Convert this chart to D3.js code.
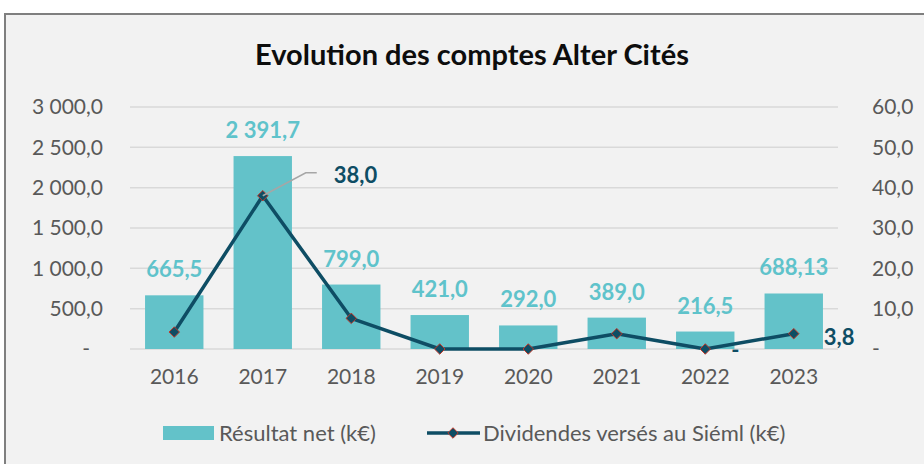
<!DOCTYPE html>
<html>
<head>
<meta charset="utf-8">
<script src="https://cdn.jsdelivr.net/npm/d3@7"></script>
<style>
  body { margin: 0; background: #ffffff; }
  svg { display: block; font-family: Lato, "Open Sans", sans-serif; }
</style>
</head>
<body>
<div id="chart"></div>
<script>
// Chart data
const years = ["2016", "2017", "2018", "2019", "2020", "2021", "2022", "2023"];
const resultatNet = [665.5, 2391.7, 799.0, 421.0, 292.0, 389.0, 216.5, 688.13];
const dividendes = [4.2, 38.0, 7.6, 0, 0, 3.8, 0, 3.8];
const leftTicks = [0, 500, 1000, 1500, 2000, 2500, 3000];
const rightTicks = [0, 10, 20, 30, 40, 50, 60];
const labelledDividends = ["2017", "2022", "2023"];

const width = 924, height = 464;
const margin = { top: 107, right: 86, bottom: 115, left: 130 };

const fr = d3.formatLocale({ decimal: ",", thousands: "\u00a0", grouping: [3], currency: ["", "€"] });
const fmt1 = fr.format(",.1f");
const fmt2 = fr.format(",.2f");
const tickFmt = v => v === 0 ? "-" : fmt1(v);
const barFmt = v => Math.abs(v * 10 - Math.round(v * 10)) < 1e-9 ? fmt1(v) : fmt2(v);

const svg = d3.select("#chart").append("svg")
    .attr("width", width)
    .attr("height", height);

// Frame
svg.append("rect")
    .attr("x", 5).attr("y", 14)
    .attr("width", width + 20).attr("height", height)
    .attr("fill", "#f2f2f2")
    .attr("stroke", "#7f7f7f")
    .attr("stroke-width", 2);

// Title
svg.append("text")
    .attr("x", 472).attr("y", 65)
    .attr("text-anchor", "middle")
    .attr("font-size", 29)
    .attr("font-weight", "bold")
    .attr("fill", "#0d0d0d")
    .text("Evolution des comptes Alter Cités");

const x = d3.scaleBand()
    .domain(years)
    .range([margin.left, width - margin.right])
    .paddingInner(0.34)
    .paddingOuter(0.17);

const yLeft = d3.scaleLinear().domain([0, 3000]).range([349, 107]);
const yRight = d3.scaleLinear().domain([0, 60]).range([349, 107]);

// Gridlines
svg.append("g")
    .selectAll("line")
    .data(leftTicks)
    .enter().append("line")
    .attr("x1", margin.left)
    .attr("x2", width - margin.right)
    .attr("y1", d => yLeft(d))
    .attr("y2", d => yLeft(d))
    .attr("stroke", "#d9d9d9")
    .attr("stroke-width", 1.5);

// Left axis
const leftAxis = svg.append("g")
    .attr("transform", `translate(${margin.left},0)`)
    .call(d3.axisLeft(yLeft).tickValues(leftTicks).tickFormat(tickFmt).tickSize(0).tickPadding(27));
leftAxis.select(".domain").remove();
leftAxis.selectAll("text")
    .attr("font-size", 21)
    .attr("font-family", "Lato, sans-serif")
    .attr("fill", "#595959")
    .attr("dx", d => d === 0 ? -13 : 0);

// Right axis (labels left-aligned)
const rightAxis = svg.append("g")
    .attr("transform", `translate(${width - margin.right},0)`)
    .call(d3.axisRight(yRight).tickValues(rightTicks).tickFormat(tickFmt).tickSize(0).tickPadding(34));
rightAxis.select(".domain").remove();
rightAxis.selectAll("text")
    .attr("font-size", 21)
    .attr("font-family", "Lato, sans-serif")
    .attr("fill", "#595959");

// Bottom axis
const bottomAxis = svg.append("g")
    .attr("transform", `translate(0,${yLeft(0)})`)
    .call(d3.axisBottom(x).tickSize(0).tickPadding(20));
bottomAxis.select(".domain").remove();
bottomAxis.selectAll("text")
    .attr("font-size", 21)
    .attr("font-family", "Lato, sans-serif")
    .attr("fill", "#595959");

// Bars
svg.append("g")
    .selectAll("rect")
    .data(resultatNet)
    .enter().append("rect")
    .attr("x", (d, i) => x(years[i]))
    .attr("width", x.bandwidth())
    .attr("y", d => yLeft(d))
    .attr("height", d => yLeft(0) - yLeft(d))
    .attr("fill", "#63c2c9");

// Bar labels
svg.append("g")
    .selectAll("text")
    .data(resultatNet)
    .enter().append("text")
    .attr("x", (d, i) => x(years[i]) + x.bandwidth() / 2)
    .attr("y", d => yLeft(d) - 18)
    .attr("text-anchor", "middle")
    .attr("font-size", 22)
    .attr("font-weight", "bold")
    .attr("fill", "#5fc3cb")
    .text(d => barFmt(d));

// Dividends line
const cx = i => x(years[i]) + x.bandwidth() / 2;
const line = d3.line()
    .x((d, i) => cx(i))
    .y(d => yRight(d));

svg.append("path")
    .datum(dividendes)
    .attr("fill", "none")
    .attr("stroke", "#0e4d64")
    .attr("stroke-width", 3.5)
    .attr("stroke-linejoin", "round")
    .attr("d", line);

const diamond = d3.symbol().type(d3.symbolDiamond2).size(70);
svg.append("g")
    .selectAll("path")
    .data(dividendes)
    .enter().append("path")
    .attr("transform", (d, i) => `translate(${cx(i)},${yRight(d)})`)
    .attr("d", diamond)
    .attr("fill", "#0e4d64")
    .attr("stroke", "#c0392b")
    .attr("stroke-width", 1);

// Dividend labels
const divLabels = svg.append("g")
    .attr("font-weight", "bold")
    .attr("font-size", 22)
    .attr("fill", "#0e4d64");

dividendes.forEach((d, i) => {
    if (!labelledDividends.includes(years[i])) return;
    const px = cx(i), py = yRight(d);
    if (years[i] === "2017") {
        svg.append("polyline")
            .attr("points", `${px},${py} ${px + 43},${py - 23} ${px + 54},${py - 23}`)
            .attr("fill", "none")
            .attr("stroke", "#a6a6a6")
            .attr("stroke-width", 1.5);
        divLabels.append("text")
            .attr("x", px + 71).attr("y", py - 13)
            .text(fmt1(d));
    } else if (d === 0) {
        divLabels.append("text")
            .attr("x", px + 30).attr("y", py + 9)
            .attr("text-anchor", "middle")
            .text("-");
    } else {
        divLabels.append("text")
            .attr("x", px + 30).attr("y", py + 11)
            .text(fmt1(d));
    }
});

// Legend
const legend = svg.append("g").attr("font-size", 22).attr("fill", "#595959");
legend.append("rect")
    .attr("x", 163).attr("y", 426)
    .attr("width", 51).attr("height", 14)
    .attr("fill", "#63c2c9");
legend.append("text")
    .attr("x", 219).attr("y", 441)
    .text("Résultat net (k€)");
legend.append("line")
    .attr("x1", 427).attr("x2", 480)
    .attr("y1", 433).attr("y2", 433)
    .attr("stroke", "#0e4d64")
    .attr("stroke-width", 3.5);
legend.append("path")
    .attr("transform", "translate(453,433)")
    .attr("d", diamond)
    .attr("fill", "#0e4d64")
    .attr("stroke", "#c0392b")
    .attr("stroke-width", 1);
legend.append("text")
    .attr("x", 483).attr("y", 441)
    .text("Dividendes versés au Siéml (k€)");
</script>
</body>
</html>
